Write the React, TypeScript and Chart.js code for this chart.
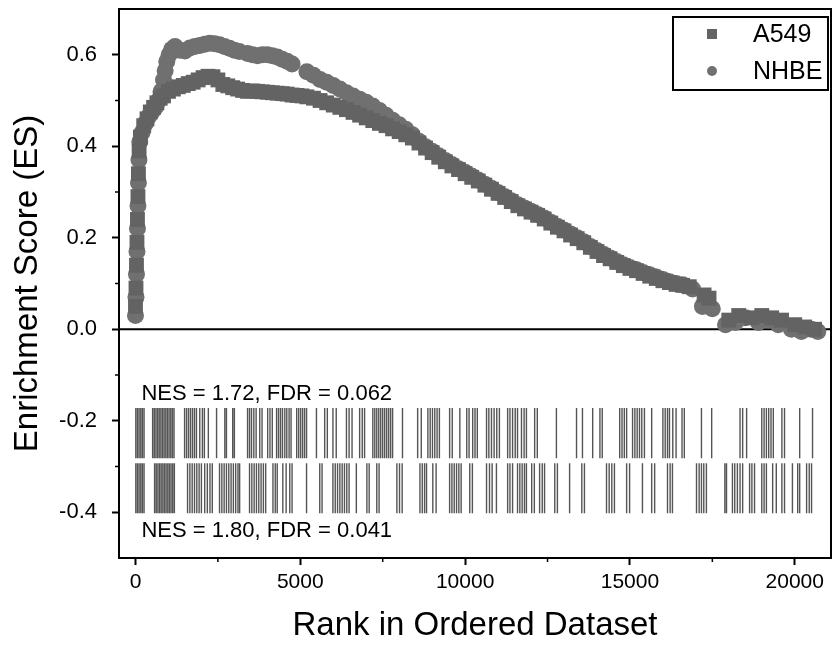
import React, { useEffect, useRef } from 'react';
import { Chart, registerables } from 'chart.js';

Chart.register(...registerables);

const FONT = "'Liberation Sans', Arial, Helvetica, sans-serif";

const seriesLabels = ['A549', 'NHBE'];
const xTitle = 'Rank in Ordered Dataset';
const yTitle = 'Enrichment Score (ES)';
const statLabels = ['NES = 1.72, FDR = 0.062', 'NES = 1.80, FDR = 0.041'];

const xTickValues = [0, 5000, 10000, 15000, 20000];
const xMinorValues = [2500, 7500, 12500, 17500];
const yTickValues = [-0.4, -0.2, 0.0, 0.2, 0.4, 0.6];
const yMinorValues = [-0.3, -0.1, 0.1, 0.3, 0.5];

const a549Rank = [0, 15, 30, 45, 60, 75, 90, 110, 150, 250, 350, 450, 550, 650, 750, 850, 1000, 1150, 1300, 1450, 1600, 1750, 1900, 2050, 2200, 2350, 2500, 2650, 2800, 2950, 3100, 3250, 3400, 3550, 3700, 3850, 4000, 4150, 4300, 4450, 4600, 4750, 4900, 5050, 5200, 5400, 5600, 5800, 6000, 6200, 6400, 6600, 6800, 7000, 7200, 7400, 7600, 7800, 8000, 8200, 8400, 8600, 8800, 9000, 9200, 9400, 9600, 9800, 10000, 10200, 10400, 10600, 10800, 11000, 11200, 11400, 11600, 11800, 12000, 12200, 12400, 12600, 12800, 13000, 13200, 13400, 13600, 13800, 14000, 14200, 14400, 14600, 14800, 15000, 15200, 15400, 15600, 15800, 16000, 16200, 16400, 16600, 16800, 17250, 17400, 18000, 18300, 18700, 19000, 19300, 19600, 20000, 20300, 20600];
const a549ES = [0.05, 0.09, 0.14, 0.19, 0.24, 0.29, 0.34, 0.39, 0.42, 0.445, 0.46, 0.475, 0.485, 0.495, 0.505, 0.51, 0.52, 0.525, 0.53, 0.533, 0.537, 0.54, 0.545, 0.55, 0.553, 0.552, 0.545, 0.535, 0.532, 0.528, 0.525, 0.522, 0.52, 0.521, 0.52, 0.519, 0.518, 0.517, 0.516, 0.515, 0.514, 0.512, 0.511, 0.51, 0.508, 0.505, 0.5, 0.495, 0.49, 0.485, 0.48, 0.474, 0.468, 0.462, 0.456, 0.45, 0.445, 0.438, 0.432, 0.425, 0.418, 0.407, 0.396, 0.386, 0.376, 0.366, 0.357, 0.349, 0.34, 0.332, 0.324, 0.315, 0.306, 0.297, 0.288, 0.279, 0.27, 0.263, 0.256, 0.249, 0.241, 0.232, 0.223, 0.215, 0.206, 0.198, 0.189, 0.179, 0.17, 0.161, 0.154, 0.146, 0.139, 0.133, 0.128, 0.122, 0.116, 0.111, 0.106, 0.102, 0.098, 0.096, 0.093, 0.075, 0.068, 0.02, 0.03, 0.025, 0.03, 0.025, 0.02, 0.01, 0.005, 0.0];

const nhbeRank = [0, 15, 30, 45, 60, 75, 90, 105, 130, 200, 300, 400, 500, 600, 700, 780, 850, 900, 950, 1020, 1100, 1200, 1350, 1500, 1650, 1800, 1950, 2100, 2250, 2400, 2550, 2700, 2850, 3000, 3150, 3400, 3550, 3700, 3850, 4000, 4150, 4300, 4450, 4600, 4750, 5200, 5400, 5600, 5800, 6000, 6200, 6400, 6600, 6800, 7000, 7200, 7400, 7600, 7800, 8000, 8200, 8400, 8600, 8800, 9000, 9200, 9400, 9600, 9800, 10000, 10200, 10400, 10600, 10800, 11000, 11200, 11400, 11600, 11800, 12000, 12200, 12400, 12600, 12800, 13000, 13200, 13400, 13600, 13800, 14000, 14200, 14400, 14600, 14800, 15000, 15200, 15400, 15600, 15800, 16000, 16200, 16400, 16600, 16900, 17200, 17500, 17900, 18200, 18500, 18900, 19200, 19500, 19900, 20200, 20500, 20700];
const nhbeES = [0.03, 0.07, 0.12, 0.17, 0.22, 0.27, 0.32, 0.37, 0.41, 0.43, 0.45, 0.465, 0.475, 0.485, 0.5, 0.52, 0.545, 0.565, 0.585, 0.6, 0.612, 0.618, 0.61, 0.608, 0.615, 0.618, 0.62, 0.623, 0.625, 0.624, 0.622, 0.618, 0.614, 0.61, 0.607, 0.603, 0.6, 0.598, 0.6, 0.6, 0.598, 0.595, 0.59, 0.586, 0.58, 0.563, 0.555, 0.546, 0.54, 0.533, 0.525, 0.517, 0.51, 0.503, 0.496, 0.488, 0.478, 0.468, 0.457, 0.447, 0.437, 0.425, 0.411, 0.399, 0.389, 0.379, 0.369, 0.36, 0.351, 0.343, 0.335, 0.326, 0.317, 0.308, 0.299, 0.29, 0.281, 0.272, 0.265, 0.258, 0.251, 0.243, 0.234, 0.225, 0.217, 0.208, 0.2, 0.191, 0.181, 0.172, 0.164, 0.156, 0.148, 0.141, 0.135, 0.13, 0.124, 0.119, 0.114, 0.109, 0.104, 0.1, 0.097, 0.088, 0.05, 0.045, 0.01, 0.015, 0.025, 0.015, 0.02, 0.01, 0.0, -0.005, 0.0, -0.005];

// gene-set hit positions (rank) for each cell line
const a549Hits = [10, 60, 110, 160, 210, 260, 520, 570, 620, 670, 720, 770, 820, 870, 920, 970, 1020, 1070, 1120, 1170, 1490, 1550, 1610, 1670, 1730, 1790, 1850, 1950, 2030, 2090, 2210, 2460, 2710, 2760, 2950, 3000, 3400, 3460, 3520, 3590, 3660, 3770, 3840, 4010, 4080, 4150, 4280, 4340, 4400, 4460, 4530, 4590, 4660, 4720, 4890, 4950, 5010, 5070, 5130, 5190, 5490, 5740, 5820, 5990, 6090, 6400, 6480, 6570, 6800, 6880, 6950, 7200, 7260, 7320, 7380, 7440, 7500, 7560, 7620, 7680, 7740, 7800, 8100, 8560, 8670, 8870, 8940, 9010, 9080, 9150, 9220, 9530, 9610, 9840, 10050, 10120, 10230, 10300, 10370, 10650, 10720, 10800, 10880, 10960, 11040, 11290, 11360, 11440, 11520, 11590, 11710, 11790, 11860, 12110, 12190, 12770, 13380, 13560, 13870, 14090, 14160, 14690, 14760, 14830, 14900, 15080, 15150, 15220, 15290, 15360, 15440, 15660, 16000, 16070, 16140, 16200, 16300, 16400, 16580, 16650, 17170, 17480, 18340, 18420, 18540, 19000, 19070, 19140, 19210, 19280, 19350, 19610, 19690, 20150, 20540];
const nhbeHits = [10, 60, 110, 160, 210, 260, 580, 630, 680, 730, 780, 830, 880, 930, 980, 1030, 1080, 1130, 1180, 1580, 1650, 1720, 1790, 1860, 1930, 2000, 2100, 2180, 2260, 2330, 2550, 2620, 2690, 2760, 2830, 2900, 2970, 3040, 3110, 3160, 3460, 3530, 3600, 3670, 3740, 3810, 3880, 3950, 4170, 4240, 4300, 4470, 4570, 4680, 4750, 5190, 5590, 5660, 5990, 6060, 6130, 6200, 6270, 6340, 6410, 6480, 6700, 7020, 7090, 7320, 7390, 7930, 8010, 8090, 8630, 8700, 8770, 8830, 9020, 9120, 9530, 9600, 9670, 9740, 9810, 9880, 10140, 10220, 10650, 10740, 10820, 10950, 11290, 11360, 11440, 11590, 11660, 11730, 11800, 11860, 12020, 12100, 12260, 12340, 12410, 12720, 12800, 13170, 13540, 13620, 14290, 14370, 14450, 14530, 14900, 14990, 15380, 15660, 15750, 16140, 16220, 16290, 17020, 17100, 17170, 17240, 17320, 17880, 17930, 18110, 18180, 18260, 18340, 18420, 18630, 18700, 18780, 19000, 19070, 19140, 19330, 19440, 19610, 19690, 19930, 20090, 20150, 20360, 20440, 20510];

// ES extent of each hit row (top, bottom) and of the stat labels
const a549HitBand = [-0.172, -0.282];
const nhbeHitBand = [-0.293, -0.402];
const statY = [-0.142, -0.44];
const statRank = 180;

const MARK_A549 = '#636363';
const MARK_NHBE = '#707070';
const HIT_COLOR = '#555555';

const toPoints = (xs: number[], ys: number[]) =>
  xs.slice(0, Math.min(xs.length, ys.length)).map((v, i) => ({ x: v, y: ys[i] }));

const decorPlugin = {
  id: 'gseaDecor',
  beforeDatasetsDraw(chart: any) {
    const { ctx, chartArea: a, scales } = chart;
    const x = scales.x;
    const y = scales.y;
    ctx.save();
    ctx.strokeStyle = '#000';
    ctx.lineWidth = 2;
    const y0 = y.getPixelForValue(0);
    ctx.beginPath();
    ctx.moveTo(a.left, y0);
    ctx.lineTo(a.right, y0);
    ctx.stroke();
    const rows: [number[], number[]][] = [
      [a549Hits, a549HitBand],
      [nhbeHits, nhbeHitBand],
    ];
    ctx.strokeStyle = HIT_COLOR;
    ctx.lineWidth = 1.4;
    for (const [hits, band] of rows) {
      const yt = y.getPixelForValue(band[0]);
      const yb = y.getPixelForValue(band[1]);
      ctx.beginPath();
      for (const h of hits) {
        const px = x.getPixelForValue(h);
        ctx.moveTo(px, yt);
        ctx.lineTo(px, yb);
      }
      ctx.stroke();
    }
    ctx.fillStyle = '#000';
    ctx.font = `22px ${FONT}`;
    ctx.textAlign = 'left';
    ctx.textBaseline = 'middle';
    statLabels.forEach((t, i) => {
      ctx.fillText(t, x.getPixelForValue(statRank), y.getPixelForValue(statY[i]));
    });
    ctx.restore();
  },
  afterDraw(chart: any) {
    const { ctx, chartArea: a, scales } = chart;
    const x = scales.x;
    const y = scales.y;
    ctx.save();
    ctx.strokeStyle = '#000';
    ctx.lineWidth = 2;
    ctx.strokeRect(a.left, a.top, a.right - a.left, a.bottom - a.top);
    ctx.lineWidth = 1.5;
    ctx.beginPath();
    for (const v of xMinorValues) {
      const px = x.getPixelForValue(v);
      ctx.moveTo(px, a.bottom);
      ctx.lineTo(px, a.bottom + 4);
    }
    for (const v of yMinorValues) {
      const py = y.getPixelForValue(v);
      ctx.moveTo(a.left, py);
      ctx.lineTo(a.left - 4, py);
    }
    ctx.stroke();
    // legend
    const bw = 155;
    const bh = 73;
    const bx = a.right - 3 - bw;
    const by = a.top + 8;
    ctx.fillStyle = '#fff';
    ctx.fillRect(bx, by, bw, bh);
    ctx.lineWidth = 2;
    ctx.strokeRect(bx, by, bw, bh);
    ctx.font = `25px ${FONT}`;
    ctx.textAlign = 'left';
    ctx.textBaseline = 'middle';
    const ds = chart.data.datasets;
    ds.forEach((d: any, i: number) => {
      const cy = by + 17 + i * 37;
      const cx = bx + 39;
      ctx.fillStyle = d.backgroundColor;
      if (d.pointStyle === 'rect') {
        ctx.fillRect(cx - 5, cy - 5, 10, 10);
      } else {
        ctx.beginPath();
        ctx.arc(cx, cy, 5, 0, Math.PI * 2);
        ctx.fill();
      }
      ctx.fillStyle = '#000';
      ctx.fillText(d.label, bx + 80, cy + 1);
    });
    ctx.restore();
  },
};

export default function App() {
  const ref = useRef<HTMLCanvasElement | null>(null);
  useEffect(() => {
    if (!ref.current) return;
    const chart = new Chart(ref.current, {
      type: 'scatter',
      data: {
        datasets: [
          {
            label: seriesLabels[0],
            data: toPoints(a549Rank, a549ES),
            pointStyle: 'rect',
            pointRadius: 10.5,
            backgroundColor: MARK_A549,
            borderWidth: 0,
          },
          {
            label: seriesLabels[1],
            data: toPoints(nhbeRank, nhbeES),
            pointStyle: 'circle',
            pointRadius: 8.5,
            backgroundColor: MARK_NHBE,
            borderWidth: 0,
          },
        ],
      },
      options: {
        responsive: false,
        animation: false,
        devicePixelRatio: 1,
        events: [],
        layout: { autoPadding: false, padding: { top: 9, right: 1, left: 0, bottom: 0 } },
        plugins: { legend: { display: false }, tooltip: { enabled: false } },
        scales: {
          x: {
            type: 'linear',
            min: -500,
            max: 21100,
            afterBuildTicks: (s: any) => {
              s.ticks = xTickValues.map((v) => ({ value: v }));
            },
            afterFit: (s: any) => {
              s.height = 94;
              s.paddingLeft = 0;
              s.paddingRight = 0;
            },
            ticks: {
              color: '#000',
              font: { family: FONT, size: 21 },
              padding: 5,
              maxRotation: 0,
              autoSkip: false,
              callback: (v: any) => String(v),
            },
            grid: {
              drawOnChartArea: false,
              drawTicks: true,
              tickLength: 7,
              tickWidth: 2,
              tickColor: '#000',
            },
            border: { display: false },
            title: {
              display: true,
              text: xTitle,
              color: '#000',
              font: { family: FONT, size: 33 },
              padding: { top: 0, bottom: 6 },
            },
          },
          y: {
            type: 'linear',
            min: -0.5,
            max: 0.7,
            afterBuildTicks: (s: any) => {
              s.ticks = yTickValues.map((v) => ({ value: v }));
            },
            afterFit: (s: any) => {
              s.width = 119;
              s.paddingTop = 0;
              s.paddingBottom = 0;
            },
            ticks: {
              color: '#000',
              font: { family: FONT, size: 22 },
              padding: 15,
              autoSkip: false,
              callback: (v: any) => Number(v).toFixed(1),
            },
            grid: {
              drawOnChartArea: false,
              drawTicks: true,
              tickLength: 7,
              tickWidth: 2,
              tickColor: '#000',
            },
            border: { display: false },
            title: {
              display: true,
              text: yTitle,
              color: '#000',
              font: { family: FONT, size: 33 },
              padding: { top: 8, bottom: 0 },
            },
          },
        },
      },
      plugins: [decorPlugin],
    } as any);
    return () => chart.destroy();
  }, []);
  return (
    <div style={{ position: 'absolute', left: 0, top: 0, width: 832, height: 652, background: '#fff' }}>
      <canvas ref={ref} width={832} height={652} style={{ display: 'block', width: 832, height: 652 }} />
    </div>
  );
}
